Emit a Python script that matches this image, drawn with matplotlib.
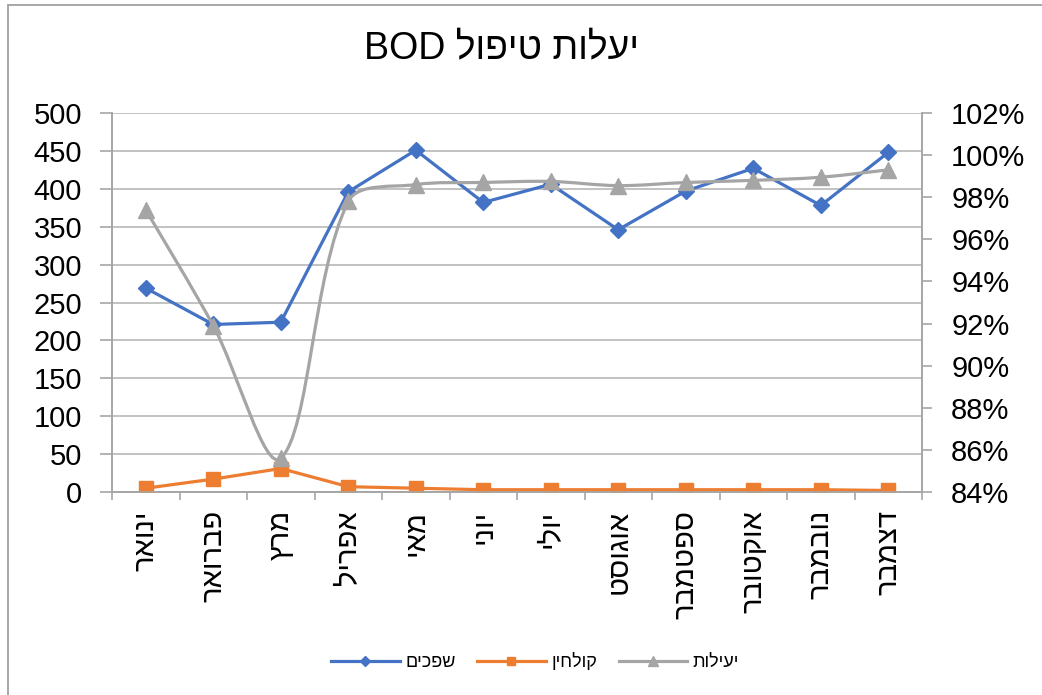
import numpy as np
import matplotlib.pyplot as plt
from matplotlib.path import Path
from matplotlib.patches import PathPatch, Rectangle
from matplotlib.lines import Line2D

plt.rcParams['font.family'] = ['Liberation Sans', 'DejaVu Sans']


def vis(s):
    # matplotlib has no bidi support, so hebrew is written in visual order
    return s[::-1]


# data
months = ["ינואר", "פברואר", "מרץ", "אפריל", "מאי", "יוני",
          "יולי", "אוגוסט", "ספטמבר", "אוקטובר", "נובמבר", "דצמבר"]
influent = [269, 221, 224, 396, 451, 382, 406, 346, 397, 427, 378, 448]
effluent = [5, 17, 31, 7, 5, 3, 3, 3, 3, 3, 3, 2]
efficiency = [97.4, 91.9, 85.6, 97.8, 98.6, 98.7, 98.75, 98.55, 98.7, 98.8, 98.95, 99.3]

blue = '#4472C4'
orange = '#ED7D31'
gray = '#A5A5A5'
axcol = '#A6A6A6'

fig = plt.figure(figsize=(10.42, 6.95), dpi=100)
ax = fig.add_axes([112/1042, 1-492/695, 810/1042, 379/695])
ax2 = ax.twinx()

x = np.arange(len(months))

# left axis
ax.plot(x, influent, color=blue, lw=2.3, marker='D', ms=8, zorder=3)
ax.plot(x, effluent, color=orange, lw=2.3, marker='s', ms=10, zorder=3)
ax.set_xlim(-0.5, len(months) - 0.5)
ax.set_ylim(0, 500)
ax.set_yticks(np.arange(0, 501, 50))
ax.grid(axis='y', color='#BDBDBD', lw=1.3)
ax.set_axisbelow(True)
ax.set_xticks(np.arange(-0.5, len(months), 1.0))
ax.set_xticklabels([])
ax.set_xticks(x, minor=True)
ax.set_xticklabels([vis(m) for m in months], minor=True, rotation=90, va='top', fontsize=21)
ax.tick_params(axis='x', which='minor', length=0, pad=13)
ax.tick_params(axis='x', which='major', length=6, color=axcol, width=1.2, direction='out')
ax.tick_params(axis='y', length=8.5, color=axcol, width=1.2, labelsize=21, pad=13)

# right axis, smoothed line like excel
ax2.set_ylim(84, 102)
ax2.set_yticks(np.arange(84, 103, 2))
ax2.set_yticklabels(["%d%%" % v for v in range(84, 103, 2)])
ax2.tick_params(axis='y', length=7, color=axcol, width=1.2, labelsize=21, pad=14)

pts = np.column_stack([x, efficiency]).astype(float)
disp = ax2.transData.transform(pts)
n = len(pts)
seg = np.hypot(*np.diff(disp, axis=0).T)
verts = [pts[0]]
codes = [Path.MOVETO]
for i in range(n - 1):
    a = max(i - 1, 0)
    b = min(i + 2, n - 1)
    d01 = seg[i - 1] if i > 0 else seg[i]
    d12 = seg[i]
    d23 = seg[i + 1] if i + 1 < n - 1 else seg[i]
    c1 = pts[i] + (pts[i + 1] - pts[a]) / 3.0 * d12 / (d01 + d12)
    c2 = pts[i + 1] - (pts[b] - pts[i]) / 3.0 * d12 / (d12 + d23)
    verts += [c1, c2, pts[i + 1]]
    codes += [Path.CURVE4] * 3
ax2.add_patch(PathPatch(Path(verts, codes), fill=False, edgecolor=gray, lw=2.3, zorder=3))
ax2.plot(x, efficiency, ls='none', marker='^', ms=11, color=gray, zorder=4)

for a in (ax, ax2):
    a.spines['top'].set_visible(False)
    for side in ('left', 'right', 'bottom'):
        a.spines[side].set_color(axcol)
        a.spines[side].set_linewidth(1.2)

fig.suptitle("BOD " + vis("יעלות טיפול"), x=502/1042, y=1-48/695, va='center', fontsize=27)

handles = [Line2D([], [], color=blue, lw=2.3, marker='D', ms=5),
           Line2D([], [], color=orange, lw=2.3, marker='s', ms=6),
           Line2D([], [], color=gray, lw=2.3, marker='^', ms=7)]
fig.legend(handles, [vis("שפכים"), vis("קולחין"), vis("יעילות")], loc='center',
           bbox_to_anchor=(535/1042, 1-662/695), ncol=3, frameon=False, fontsize=13,
           handlelength=3.8, handletextpad=0.3, columnspacing=1.2)

fig.patches.append(Rectangle((8/1042, -0.05), 1.1, 1-5/695+0.05, transform=fig.transFigure,
                             fill=False, edgecolor='#A0A0A0', lw=1.3))

fig.savefig('out.png', dpi=100)
